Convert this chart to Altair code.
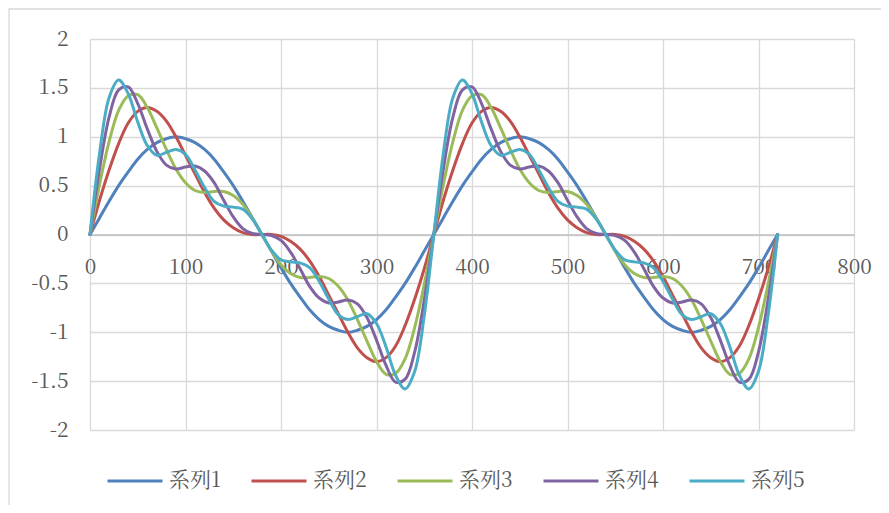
import altair as alt
import pandas as pd

x_deg = list(range(0, 721, 10))
names = ["系列1", "系列2", "系列3", "系列4", "系列5"]
colors = ["#4F81BD", "#C0504D", "#9BBB59", "#8064A2", "#4BACC6"]

s1 = [0, 0.17, 0.34, 0.50, 0.64, 0.77, 0.87, 0.94, 0.98, 1.00, 0.98, 0.94, 0.87, 0.77, 0.64, 0.50, 0.34, 0.17,
      0, -0.17, -0.34, -0.50, -0.64, -0.77, -0.87, -0.94, -0.98, -1.00, -0.98, -0.94, -0.87, -0.77, -0.64, -0.50, -0.34, -0.17,
      0, 0.17, 0.34, 0.50, 0.64, 0.77, 0.87, 0.94, 0.98, 1.00, 0.98, 0.94, 0.87, 0.77, 0.64, 0.50, 0.34, 0.17,
      0, -0.17, -0.34, -0.50, -0.64, -0.77, -0.87, -0.94, -0.98, -1.00, -0.98, -0.94, -0.87, -0.77, -0.64, -0.50, -0.34, -0.17, 0]
s2 = [0, 0.35, 0.66, 0.93, 1.14, 1.26, 1.30, 1.26, 1.16, 1.00, 0.81, 0.62, 0.43, 0.27, 0.15, 0.07, 0.02, 0.00,
      0, 0.00, -0.02, -0.07, -0.15, -0.27, -0.43, -0.62, -0.81, -1.00, -1.16, -1.26, -1.30, -1.26, -1.14, -0.93, -0.66, -0.35,
      0, 0.35, 0.66, 0.93, 1.14, 1.26, 1.30, 1.26, 1.16, 1.00, 0.81, 0.62, 0.43, 0.27, 0.15, 0.07, 0.02, 0.00,
      0, 0.00, -0.02, -0.07, -0.15, -0.27, -0.43, -0.62, -0.81, -1.00, -1.16, -1.26, -1.30, -1.26, -1.14, -0.93, -0.66, -0.35, 0]
s3 = [0, 0.51, 0.95, 1.27, 1.42, 1.43, 1.30, 1.09, 0.87, 0.67, 0.53, 0.45, 0.43, 0.44, 0.44, 0.40, 0.31, 0.17,
      0, -0.17, -0.31, -0.40, -0.44, -0.44, -0.43, -0.45, -0.53, -0.67, -0.87, -1.09, -1.30, -1.43, -1.42, -1.27, -0.95, -0.51,
      0, 0.51, 0.95, 1.27, 1.42, 1.43, 1.30, 1.09, 0.87, 0.67, 0.53, 0.45, 0.43, 0.44, 0.44, 0.40, 0.31, 0.17,
      0, -0.17, -0.31, -0.40, -0.44, -0.44, -0.43, -0.45, -0.53, -0.67, -0.87, -1.09, -1.30, -1.43, -1.42, -1.27, -0.95, -0.51, 0]
s4 = [0, 0.67, 1.20, 1.48, 1.51, 1.34, 1.08, 0.85, 0.71, 0.67, 0.69, 0.70, 0.65, 0.53, 0.35, 0.18, 0.06, 0.01,
      0, -0.01, -0.06, -0.18, -0.35, -0.53, -0.65, -0.70, -0.69, -0.67, -0.71, -0.85, -1.08, -1.34, -1.51, -1.48, -1.20, -0.67,
      0, 0.67, 1.20, 1.48, 1.51, 1.34, 1.08, 0.85, 0.71, 0.67, 0.69, 0.70, 0.65, 0.53, 0.35, 0.18, 0.06, 0.01,
      0, -0.01, -0.06, -0.18, -0.35, -0.53, -0.65, -0.70, -0.69, -0.67, -0.71, -0.85, -1.08, -1.34, -1.51, -1.48, -1.20, -0.67, 0]
s5 = [0, 0.83, 1.40, 1.58, 1.44, 1.15, 0.91, 0.81, 0.84, 0.87, 0.82, 0.66, 0.48, 0.34, 0.29, 0.28, 0.26, 0.16,
      0, -0.16, -0.26, -0.28, -0.29, -0.34, -0.48, -0.66, -0.82, -0.87, -0.84, -0.81, -0.91, -1.15, -1.44, -1.58, -1.40, -0.83,
      0, 0.83, 1.40, 1.58, 1.44, 1.15, 0.91, 0.81, 0.84, 0.87, 0.82, 0.66, 0.48, 0.34, 0.29, 0.28, 0.26, 0.16,
      0, -0.16, -0.26, -0.28, -0.29, -0.34, -0.48, -0.66, -0.82, -0.87, -0.84, -0.81, -0.91, -1.15, -1.44, -1.58, -1.40, -0.83, 0]

rows = []
for name, vals in zip(names, [s1, s2, s3, s4, s5]):
    for xv, yv in zip(x_deg, vals):
        rows.append({"x": xv, "y": yv, "series": name})
df = pd.DataFrame(rows)

FONT = "Noto Serif CJK JP"
W, H = 764, 391

lines = alt.Chart(df).mark_line(strokeWidth=3, interpolate="catmull-rom", strokeCap="round", clip=False).encode(
    x=alt.X("x:Q", scale=alt.Scale(domain=[0, 800], nice=False),
            axis=alt.Axis(values=list(range(0, 801, 100)), title=None, grid=True, gridColor="#d9d9d9",
                          gridWidth=1.3, domainColor="#bfbfbf", domainWidth=1.3, ticks=False,
                          labelPadding=22, offset=-H / 2, labelFont=FONT, labelFontSize=21,
                          labelColor="#595959", labelFlush=False, labelOverlap=False)),
    y=alt.Y("y:Q", scale=alt.Scale(domain=[-2, 2], nice=False),
            axis=alt.Axis(values=[-2, -1.5, -1, -0.5, 0, 0.5, 1, 1.5, 2], title=None, grid=True,
                          gridColor="#d9d9d9", gridWidth=1.3, domain=False, ticks=False,
                          labelPadding=22, labelFont=FONT, labelFontSize=21, labelColor="#595959",
                          labelExpr="toString(datum.value)", labelOverlap=False)),
    color=alt.Color("series:N", scale=alt.Scale(domain=names, range=colors),
                    legend=alt.Legend(title=None, orient="none", legendX=16, legendY=413,
                                      direction="horizontal", symbolType="stroke", symbolSize=3025,
                                      symbolStrokeWidth=3, labelFont=FONT, labelFontSize=21,
                                      labelColor="#595959", columnPadding=24, labelOffset=5)),
    order=alt.Order("x:Q"),
)

border = alt.Chart(pd.DataFrame({"a": [0]})).mark_rect(
    fill=None, stroke="#d9d9d9", strokeWidth=1.3, clip=False
).encode(x=alt.value(-81), x2=alt.value(830), y=alt.value(-30), y2=alt.value(520))

chart = alt.layer(border, lines).properties(
    width=W, height=H,
    autosize=alt.AutoSizeParams(type="none"),
    padding={"left": 82, "top": 31, "right": 27, "bottom": 75},
).configure_view(stroke=None)

chart.save("out.html", embed_options={"renderer": "svg", "actions": False})
